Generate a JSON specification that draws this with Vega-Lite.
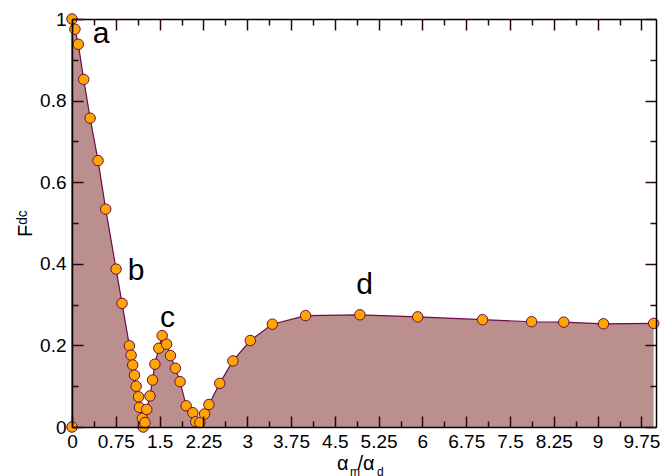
{
  "$schema": "https://vega.github.io/schema/vega-lite/v6.json",
  "width": 584,
  "height": 408,
  "autosize": "none",
  "padding": {"left": 72, "top": 19, "right": 5, "bottom": 49},
  "background": "white",
  "config": {
    "view": {"stroke": null},
    "font": "Liberation Sans",
    "axis": {"grid": false, "labelFont": "Liberation Sans", "labelFontSize": 19, "labelColor": "#000", "domainColor": "#000", "titleFont": "Liberation Sans", "titleFontWeight": "normal", "titleColor": "#000"}
  },
  "datasets": {
    "curve": [
      {"x": 0, "y": 0},
      {"x": 0, "y": 1.0},
      {"x": 0.05, "y": 0.975},
      {"x": 0.108, "y": 0.938},
      {"x": 0.2, "y": 0.852},
      {"x": 0.31, "y": 0.757},
      {"x": 0.446, "y": 0.653},
      {"x": 0.577, "y": 0.534},
      {"x": 0.755, "y": 0.387},
      {"x": 0.857, "y": 0.303},
      {"x": 0.983, "y": 0.199},
      {"x": 1.012, "y": 0.176},
      {"x": 1.04, "y": 0.152},
      {"x": 1.07, "y": 0.127},
      {"x": 1.098, "y": 0.1},
      {"x": 1.14, "y": 0.074},
      {"x": 1.155, "y": 0.048},
      {"x": 1.205, "y": 0.021},
      {"x": 1.22, "y": 0.0},
      {"x": 1.25, "y": 0.011},
      {"x": 1.28, "y": 0.043},
      {"x": 1.335, "y": 0.076},
      {"x": 1.38, "y": 0.115},
      {"x": 1.42, "y": 0.154},
      {"x": 1.486, "y": 0.193},
      {"x": 1.544, "y": 0.224},
      {"x": 1.62, "y": 0.203},
      {"x": 1.686, "y": 0.175},
      {"x": 1.77, "y": 0.144},
      {"x": 1.85, "y": 0.111},
      {"x": 1.955, "y": 0.052},
      {"x": 2.07, "y": 0.035},
      {"x": 2.12, "y": 0.013},
      {"x": 2.19, "y": 0.011},
      {"x": 2.27, "y": 0.032},
      {"x": 2.345, "y": 0.055},
      {"x": 2.53, "y": 0.107},
      {"x": 2.755, "y": 0.162},
      {"x": 3.053, "y": 0.212},
      {"x": 3.43, "y": 0.252},
      {"x": 4.0, "y": 0.273},
      {"x": 4.93, "y": 0.275},
      {"x": 5.92, "y": 0.27},
      {"x": 7.03, "y": 0.263},
      {"x": 7.87, "y": 0.258},
      {"x": 8.42, "y": 0.257},
      {"x": 9.1, "y": 0.253},
      {"x": 9.96, "y": 0.254}
    ],
    "labels": [
      {"label": "a", "x": 0.497, "y": 0.94},
      {"label": "b", "x": 1.096, "y": 0.36},
      {"label": "c", "x": 1.635, "y": 0.246},
      {"label": "d", "x": 5.01, "y": 0.326}
    ]
  },
  "layer": [
    {
      "data": {"name": "curve"},
      "mark": {"type": "area", "color": "#bc8f8f", "opacity": 1, "line": {"color": "#6b0d46", "strokeWidth": 1.2}},
      "encoding": {
        "x": {"field": "x", "type": "quantitative", "scale": {"domain": [0, 10], "nice": false, "zero": false},
          "axis": {"orient": "bottom", "values": [0, 0.75, 1.5, 2.25, 3, 3.75, 4.5, 5.25, 6, 6.75, 7.5, 8.25, 9, 9.75], "labelExpr": "format(datum.value, '.2~f')", "ticks": false, "domain": false, "labelPadding": 5, "labelFlush": false, "labelOverlap": false, "title": null}},
        "y": {"field": "y", "type": "quantitative", "stack": null, "scale": {"domain": [0, 1], "nice": false},
          "axis": {"orient": "left", "values": [0, 0.2, 0.4, 0.6, 0.8, 1], "labelExpr": "format(datum.value, '.1~f')", "ticks": false, "domain": false, "labelPadding": 6, "labelFlush": false, "labelOverlap": false, "title": "Fᵈᶜ", "titleFontSize": 20, "titlePadding": 4}}
      }
    },
    {
      "data": {"name": "curve"},
      "mark": {"type": "circle", "fill": "#ffa500", "stroke": "#6b0d46", "strokeWidth": 1, "size": 110, "opacity": 1},
      "encoding": {
        "x": {"field": "x", "type": "quantitative",
          "axis": {"orient": "bottom", "offset": -408, "values": [0, 0.75, 1.5, 2.25, 3, 3.75, 4.5, 5.25, 6, 6.75, 7.5, 8.25, 9, 9.75], "labels": false, "domain": true, "domainWidth": 1.5, "ticks": true, "tickColor": "#2a0518", "tickWidth": 1.5, "tickSize": 11, "title": null, "zindex": 1}},
        "y": {"field": "y", "type": "quantitative",
          "axis": {"orient": "left", "offset": -584, "values": [0, 0.2, 0.4, 0.6, 0.8, 1], "labels": false, "domain": true, "domainWidth": 1.5, "ticks": true, "tickColor": "#2a0518", "tickWidth": 1.5, "tickSize": 11, "title": null, "zindex": 1}}
      }
    },
    {
      "data": {"name": "labels"},
      "mark": {"type": "text", "fontSize": 30, "font": "Liberation Sans", "color": "#000", "align": "center", "baseline": "alphabetic"},
      "encoding": {
        "x": {"field": "x", "type": "quantitative",
          "axis": {"orient": "top", "offset": -408, "values": [0, 0.75, 1.5, 2.25, 3, 3.75, 4.5, 5.25, 6, 6.75, 7.5, 8.25, 9, 9.75], "labels": false, "domain": true, "domainWidth": 1.5, "ticks": true, "tickColor": "#2a0518", "tickWidth": 1.5, "tickSize": 11, "title": null, "zindex": 1}},
        "y": {"field": "y", "type": "quantitative",
          "axis": {"orient": "right", "offset": -584, "values": [0, 0.2, 0.4, 0.6, 0.8, 1], "labels": false, "domain": true, "domainWidth": 1.5, "ticks": true, "tickColor": "#2a0518", "tickWidth": 1.5, "tickSize": 11, "title": null, "zindex": 1}},
        "text": {"field": "label"}
      }
    },
    {
      "data": {"name": "labels"},
      "mark": {"type": "text", "fontSize": 30, "opacity": 0, "align": "center", "baseline": "alphabetic"},
      "encoding": {
        "x": {"field": "x", "type": "quantitative",
          "axis": {"orient": "bottom", "offset": -408, "values": [0.375, 1.125, 1.875, 2.625, 3.375, 4.125, 4.875, 5.625, 6.375, 7.125, 7.875, 8.625, 9.375], "labels": false, "domain": false, "ticks": true, "tickColor": "#2a0518", "tickWidth": 1.5, "tickSize": 6, "title": null, "zindex": 1}},
        "y": {"field": "y", "type": "quantitative",
          "axis": {"orient": "left", "offset": -584, "values": [0.1, 0.3, 0.5, 0.7, 0.9], "labels": false, "domain": false, "ticks": true, "tickColor": "#2a0518", "tickWidth": 1.5, "tickSize": 6, "title": null, "zindex": 1}},
        "text": {"field": "label"}
      }
    },
    {
      "data": {"name": "labels"},
      "mark": {"type": "text", "fontSize": 30, "opacity": 0, "align": "center", "baseline": "alphabetic"},
      "encoding": {
        "x": {"field": "x", "type": "quantitative",
          "axis": {"orient": "top", "offset": -408, "values": [0.375, 1.125, 1.875, 2.625, 3.375, 4.125, 4.875, 5.625, 6.375, 7.125, 7.875, 8.625, 9.375], "labels": false, "domain": false, "ticks": true, "tickColor": "#2a0518", "tickWidth": 1.5, "tickSize": 6, "title": null, "zindex": 1}},
        "y": {"field": "y", "type": "quantitative",
          "axis": {"orient": "right", "offset": -584, "values": [0.1, 0.3, 0.5, 0.7, 0.9], "labels": false, "domain": false, "ticks": true, "tickColor": "#2a0518", "tickWidth": 1.5, "tickSize": 6, "title": null, "zindex": 1}},
        "text": {"field": "label"}
      }
    },
    {
      "data": {"values": [{}]},
      "mark": {"type": "text", "fontSize": 20, "font": "Liberation Sans", "color": "#000", "align": "left", "baseline": "alphabetic", "dx": -27, "dy": 43},
      "encoding": {"x": {"datum": 5, "type": "quantitative", "axis": null}, "y": {"datum": 0, "type": "quantitative", "axis": null}, "text": {"value": "α"}}
    },
    {
      "data": {"values": [{}]},
      "mark": {"type": "text", "fontSize": 12, "font": "Liberation Sans", "color": "#000", "align": "left", "baseline": "alphabetic", "dx": -14, "dy": 49},
      "encoding": {"x": {"datum": 5, "type": "quantitative", "axis": null}, "y": {"datum": 0, "type": "quantitative", "axis": null}, "text": {"value": "m"}}
    },
    {
      "data": {"values": [{}]},
      "mark": {"type": "text", "fontSize": 20, "font": "Liberation Sans", "color": "#000", "align": "left", "baseline": "alphabetic", "dx": -6.5, "dy": 43},
      "encoding": {"x": {"datum": 5, "type": "quantitative", "axis": null}, "y": {"datum": 0, "type": "quantitative", "axis": null}, "text": {"value": "/α"}}
    },
    {
      "data": {"values": [{}]},
      "mark": {"type": "text", "fontSize": 12, "font": "Liberation Sans", "color": "#000", "align": "left", "baseline": "alphabetic", "dx": 13, "dy": 49},
      "encoding": {"x": {"datum": 5, "type": "quantitative", "axis": null}, "y": {"datum": 0, "type": "quantitative", "axis": null}, "text": {"value": "d"}}
    }
  ],
  "resolve": {"axis": {"x": "independent", "y": "independent"}}
}
